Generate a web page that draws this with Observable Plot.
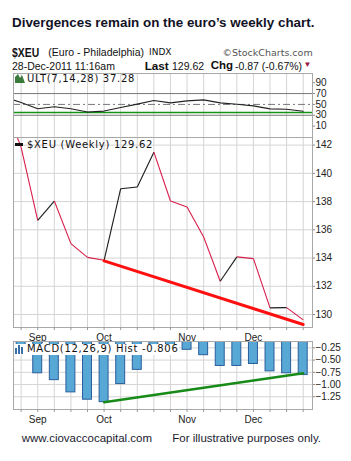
<!DOCTYPE html>
<html><head><meta charset="utf-8">
<script src="https://cdn.jsdelivr.net/npm/d3@7"></script>
<script src="https://cdn.jsdelivr.net/npm/@observablehq/plot@0.6"></script>
<style>
body{margin:0;background:#fff;}
#wrap{position:relative;width:351px;height:461px;overflow:hidden;font-family:"Liberation Sans",Arial,sans-serif;color:#111;background:#fff;}
.abs{position:absolute;white-space:nowrap;}
.leg{font-family:"DejaVu Sans",Verdana,sans-serif;font-size:10px;line-height:10px;letter-spacing:0.7px;color:#111;}
.panel{position:absolute;left:0;}
</style></head><body>
<div id="wrap">
  <div class="abs" style="left:12px;top:16px;font-size:13.4px;line-height:13.4px;font-weight:bold;color:#121225;">Divergences remain on the euro’s weekly chart.</div>
  <div class="abs" style="left:12px;top:45.5px;font-size:13.5px;line-height:13.5px;font-weight:bold;transform:scaleX(0.77);transform-origin:left center;">$XEU</div>
  <div class="abs" style="left:48.3px;top:47px;font-size:10.5px;line-height:10.5px;">(Euro - Philadelphia)</div>
  <div class="abs" style="left:149px;top:48px;font-family:'DejaVu Sans',sans-serif;font-size:9px;line-height:9px;">INDX</div>
  <div class="abs" style="left:222.5px;top:47.5px;font-family:'DejaVu Sans',sans-serif;font-size:9.5px;line-height:9.5px;color:#555;">©StockCharts.com</div>
  <div class="abs" style="left:12px;top:60.5px;font-size:10.5px;line-height:10.5px;">28-Dec-2011 11:16am</div>
  <div class="abs" style="left:144.7px;top:60px;font-size:11.7px;line-height:11.7px;font-weight:bold;">Last</div>
  <div class="abs" style="left:172px;top:60.5px;font-size:10.5px;line-height:10.5px;">129.62</div>
  <div class="abs" style="left:210.7px;top:60px;font-size:11.5px;line-height:11.5px;font-weight:bold;">Chg</div>
  <div class="abs" style="left:235px;top:60.5px;font-size:10.5px;line-height:10.5px;">-0.87 (-0.67%)</div>
  <div class="abs" style="left:303.5px;top:61px;font-size:8px;line-height:8px;color:#9b1840;">▼</div>

  <div id="ult" class="panel" style="top:73px;"></div>
  <div id="main" class="panel" style="top:137px;"></div>
  <div id="macd" class="panel" style="top:341px;"></div>

  <div class="abs leg" style="left:15px;top:73.5px;"><svg width="10" height="9" style="vertical-align:top;margin-right:2px"><polygon points="0,9 0,3 3,0 5,4 7,1 10,9" fill="#3a7a3a"/></svg>ULT(7,14,28) 37.28</div>
  <div class="abs leg" style="left:15px;top:139.8px;"><svg width="8" height="9" style="vertical-align:top;margin-right:4px"><rect x="0" y="3" width="8" height="3" fill="#111"/></svg>$XEU (Weekly) 129.62</div>
  <div class="abs leg" style="left:14px;top:343.5px;background:#fff;padding:0 1px 1px 1px;"><svg width="10" height="10" style="vertical-align:top;margin-right:2px"><rect x="0" y="4" width="2" height="6" fill="#3a6ea8"/><rect x="3" y="1" width="2" height="9" fill="#3a6ea8"/><rect x="6" y="3" width="2" height="7" fill="#3a6ea8"/></svg>MACD(12,26,9) Hist -0.806</div>

  <div class="abs" style="left:21.7px;top:432.5px;font-size:11.5px;line-height:11.5px;color:#1a1a30;">www.ciovaccocapital.com</div>
  <div class="abs" style="left:172.3px;top:432.5px;font-size:11.5px;line-height:11.5px;color:#1a1a30;">For illustrative purposes only.</div>
</div>
<script>
// ---- data (weekly) ----
const weeks = ["2011-08-26","2011-09-02","2011-09-09","2011-09-16","2011-09-23","2011-09-30","2011-10-07","2011-10-14","2011-10-21","2011-10-28","2011-11-04","2011-11-11","2011-11-18","2011-11-25","2011-12-02","2011-12-09","2011-12-16","2011-12-23","2011-12-28"];
const closePrice = [144.9, 141.84, 136.67, 138.04, 135.02, 134.05, 133.84, 138.91, 139.03, 141.5, 138.04, 137.61, 135.49, 132.36, 134.08, 133.96, 130.47, 130.49, 129.62];
const ultValues = [63.8, 53.4, 42.0, 45.7, 42.0, 35.9, 37.7, 44.2, 50.6, 57.1, 52.9, 56.5, 58.4, 52.9, 50.3, 47.3, 41.8, 41.1, 37.28];
const macdWeeks = weeks.slice(1);
const macdHist = [-0.35, -0.77, -0.91, -1.16, -1.31, -1.36, -0.99, -0.70, -0.20, -0.22, -0.29, -0.40, -0.62, -0.62, -0.58, -0.73, -0.77, -0.806];
const monthLabels = ["Sep","Oct","Nov","Dec"];
const monthWeeks = ["2011-09-09","2011-10-07","2011-11-11","2011-12-09"];
const priceTicks = [130,132,134,136,138,140,142];
const ultTicks = [10,30,50,70,90];
const ultLevels = [70,30];
const ultMid = [50];
const ultGreen = [35];
const macdTicks = [-0.25,-0.50,-0.75,-1.00,-1.25];
const priceTrend = [{w:"2011-10-07", v:133.8},{w:"2011-12-28", v:129.29}];
const macdTrend = [{w:"2011-10-07", v:-1.36},{w:"2011-12-28", v:-0.768}];

// ---- derived ----
const pos = w => weeks.indexOf(w) - 1;
const gridWeeks = macdWeeks.map(pos);
const monthPos = monthWeeks.map(pos);
const tickFmt = i => { const k = monthPos.indexOf(i); return k >= 0 ? monthLabels[k] : ""; };
const priceRows = weeks.map((w,i) => ({x: pos(w), v: closePrice[i], u: ultValues[i]}));
const segs = priceRows.slice(1).map((d,i) => ({x1: priceRows[i].x, y1: priceRows[i].v, x2: d.x, y2: d.v, up: d.v >= priceRows[i].v}));
const macdRows = macdWeeks.map((w,i) => ({x: pos(w), v: macdHist[i]}));

const W = 351, ML = 13, MR = 39;
const xdom = [-0.46, 17.56];
const baseStyle = {fontFamily:"Liberation Sans, Arial, sans-serif", fontSize:"10px", color:"#222", background:"transparent", overflow:"visible"};
const gridC = "#d4d4d4", frameC = "#a8a8a8";

const ult = Plot.plot({
  width: W, height: 64, marginLeft: ML, marginRight: MR, marginTop: 0, marginBottom: 0,
  style: baseStyle,
  x: {domain: xdom, axis: null},
  y: {domain: [-11, 107]},
  marks: [
    Plot.ruleX(gridWeeks, {stroke: gridC}),
    Plot.ruleY(ultLevels, {stroke: "#777"}),
    Plot.ruleY(ultMid, {stroke: "#777", strokeDasharray: "7,3,2,3"}),
    Plot.ruleY(ultGreen, {stroke: "#139213", strokeWidth: 1.5}),
    Plot.line(priceRows, {x: "x", y: "u", stroke: "#222", strokeWidth: 1.1, clip: true}),
    Plot.frame({stroke: frameC}),
    Plot.axisY(ultTicks, {anchor: "right", tickSize: 2, tickPadding: 1, stroke: "#888", label: null})
  ]
});
document.getElementById("ult").appendChild(ult);

const main = Plot.plot({
  width: W, height: 204, marginLeft: ML, marginRight: MR, marginTop: 0, marginBottom: 14,
  style: baseStyle,
  x: {domain: xdom},
  y: {domain: [129.08, 142.54]},
  marks: [
    Plot.ruleX(gridWeeks, {stroke: gridC}),
    Plot.ruleY(priceTicks, {stroke: gridC}),
    Plot.link(segs, {x1: "x1", y1: "y1", x2: "x2", y2: "y2", stroke: d => d.up ? "#1a1a1a" : "#d81e4a", strokeWidth: 1.1, clip: true}),
    Plot.line(priceTrend, {x: d => pos(d.w), y: "v", stroke: "#ff1010", strokeWidth: 3}),
    Plot.frame({stroke: frameC}),
    Plot.axisX(gridWeeks, {anchor: "bottom", tickSize: 3, tickPadding: 3, tickFormat: tickFmt, stroke: "#999", label: null}),
    Plot.axisY(priceTicks, {anchor: "right", tickSize: 2, tickPadding: 1, stroke: "#888", label: null})
  ]
});
document.getElementById("main").appendChild(main);

const macd = Plot.plot({
  width: W, height: 84, marginLeft: ML, marginRight: MR, marginTop: 0, marginBottom: 16,
  style: baseStyle,
  x: {domain: xdom},
  y: {domain: [-1.51, -0.12]},
  marks: [
    Plot.ruleX(gridWeeks, {stroke: gridC}),
    Plot.ruleY(macdTicks, {stroke: gridC}),
    Plot.rectY(macdRows, {x1: d => d.x - 0.27, x2: d => d.x + 0.27, y1: 0, y2: "v", fill: "#58a8d6", stroke: "#2b5e9c", strokeWidth: 1, clip: true}),
    Plot.line(macdTrend, {x: d => pos(d.w), y: "v", stroke: "#178a17", strokeWidth: 2.5}),
    Plot.frame({stroke: frameC}),
    Plot.axisX(gridWeeks, {anchor: "bottom", tickSize: 3, tickPadding: 3, tickFormat: tickFmt, stroke: "#999", label: null}),
    Plot.axisY(macdTicks, {anchor: "right", tickSize: 2, tickPadding: 1, tickFormat: d3.format(".2f"), stroke: "#888", label: null})
  ]
});
document.getElementById("macd").appendChild(macd);
</script>
</body></html>
